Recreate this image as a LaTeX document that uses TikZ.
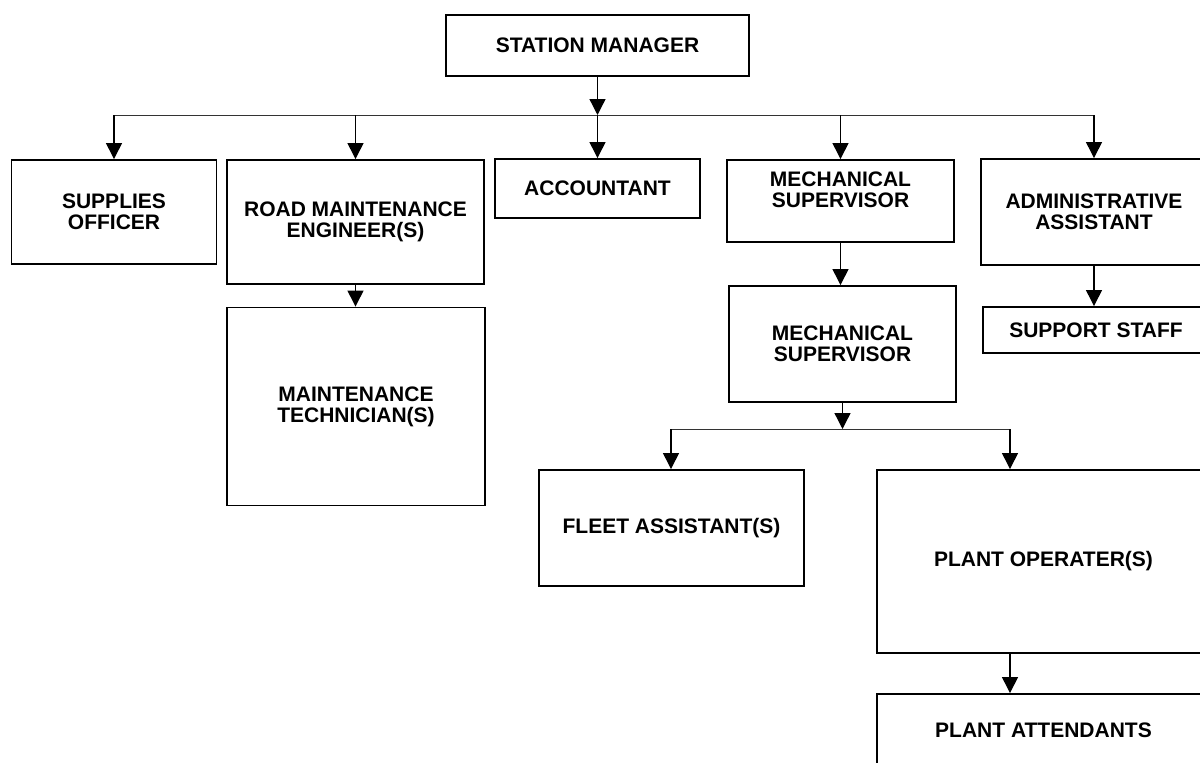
\documentclass[tikz,border=0pt]{standalone}
\usepackage{fontspec}
\setmainfont{Liberation Sans}
\usetikzlibrary{arrows.meta, positioning, calc}

\begin{document}
\begin{tikzpicture}[x=1pt, y=-1pt,
  post/.style={draw, line width=1.9pt, inner sep=0pt, align=center,
    font=\bfseries\fontsize{21}{21}\selectfont},
  caption/.style={inner sep=0pt, align=center, font=\bfseries\fontsize{21}{21}\selectfont},
  link/.style={-{Triangle[width=16pt,length=16pt]}, line width=1.3pt},
  bus/.style={line width=1pt, black!80}]
  \useasboundingbox (0,0) rectangle (1200,763);
  % Top level
  \node[post, minimum width=303, minimum height=61] (mgr) at (597.5,45.5) {STATION MANAGER};
  % Second row
  \node[post, minimum width=205, minimum height=104] (sup) at (114,212) {SUPPLIES\\OFFICER};
  \node[post, minimum width=257, minimum height=124] (road) at (355.5,222) {ROAD MAINTENANCE\\ENGINEER(S)};
  \node[post, minimum width=205, minimum height=59] (acct) at (597.5,188.5) {ACCOUNTANT};
  \node[post, minimum width=227, minimum height=82] (mech) at (840.5,201) {};
  \node[caption] (mechlbl) at (840.5,190) {MECHANICAL\\SUPERVISOR};
  \node[post, minimum width=226, minimum height=106] (admin) at (1094,212) {ADMINISTRATIVE\\ASSISTANT};
  % Third row
  \node[post, minimum width=258, minimum height=198] (tech) at (356,406.5) {MAINTENANCE\\TECHNICIAN(S)};
  \node[post, minimum width=227, minimum height=116] (mech2) at (842.5,344) {MECHANICAL\\SUPERVISOR};
  \node[post, minimum width=226, minimum height=46] (staff) at (1096,330) {SUPPORT STAFF};
  % Fleet and plant
  \node[post, minimum width=265, minimum height=116] (fleet) at (671.5,528) {FLEET ASSISTANT(S)};
  \node[post, minimum width=333, minimum height=183] (oper) at (1043.5,561.5) {PLANT OPERATER(S)};
  \node[post, minimum width=333, minimum height=72] (attend) at (1043.5,730) {PLANT ATTENDANTS};

  % Connectors
  \coordinate (busL) at (115,115);
  \coordinate (busR) at (1095,115);
  \draw[bus] (busL) -- (busR);
  \draw[link] (mgr.south) -- (mgr.south |- busL);
  \foreach \n in {sup, road, acct, mech, admin}
    \draw[link] (busL -| \n.north) -- (\n.north);
  \draw[link] (road.south) -- (road.south |- tech.north);
  \draw[link] (mech.south) -- (mech.south |- mech2.north);
  \draw[link] (admin.south) -- (admin.south |- staff.north);
  \coordinate (fbL) at (671,429);
  \coordinate (fbR) at (1010,429);
  \draw[bus] (fbL) -- (fbR);
  \draw[link] (mech2.south) -- (mech2.south |- fbL);
  \draw[link] (fbL) -- (fbL |- fleet.north);
  \draw[link] (fbR) -- (fbR |- oper.north);
  \draw[link] (oper.south -| fbR) -- (fbR |- attend.north);
\end{tikzpicture}
\end{document}
